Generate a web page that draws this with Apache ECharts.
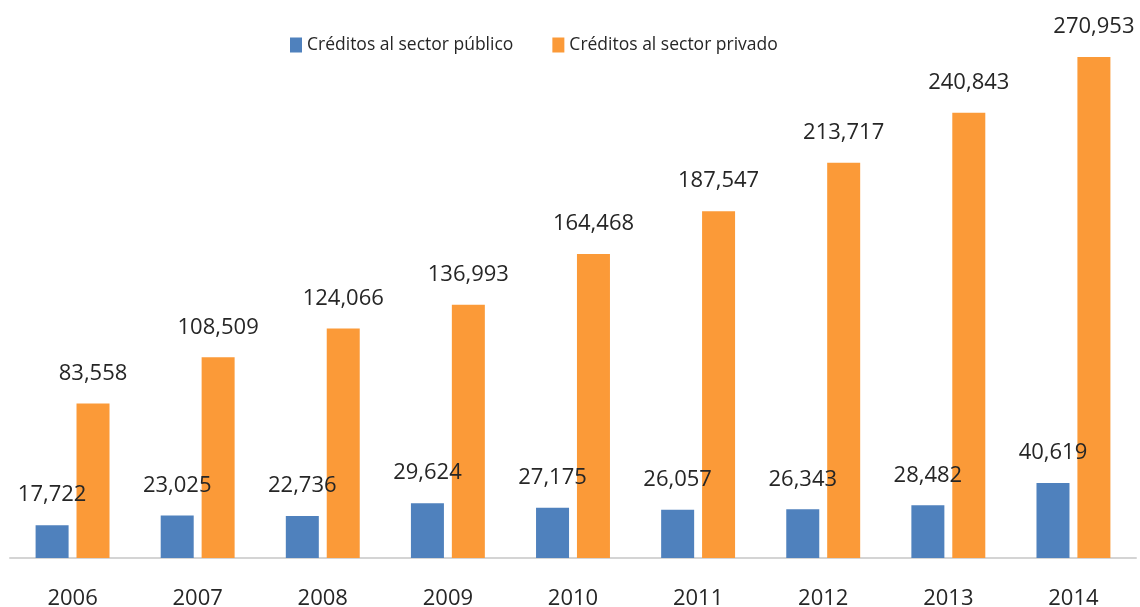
<!DOCTYPE html>
<html>
<head>
<meta charset="utf-8">
<script src="https://cdn.jsdelivr.net/npm/echarts@6/dist/echarts.min.js"></script>
<style>
  html, body { margin: 0; padding: 0; background: #fff; }
  #main { width: 1140px; height: 607px; }
</style>
</head>
<body>
<div id="main"></div>
<script>
    var years = ['2006', '2007', '2008', '2009', '2010', '2011', '2012', '2013', '2014'];
    var publico = [17722, 23025, 22736, 29624, 27175, 26057, 26343, 28482, 40619];
    var privado = [83558, 108509, 124066, 136993, 164468, 187547, 213717, 240843, 270953];

    var FONT = '"Open Sans", sans-serif';

    var myChart = echarts.init(document.getElementById('main'));

    // etiqueta con separador de miles
    function fmt(p) {
        return p.value.toString().replace(/\B(?=(\d{3})+(?!\d))/g, ',');
    }

    var labelStyle = {
        show: true,
        position: 'top',
        distance: 19,
        formatter: fmt,
        color: '#262626',
        fontFamily: FONT,
        fontSize: 22
    };

    var option = {
        animation: false,
        legend: {
            data: ['Créditos al sector público', 'Créditos al sector privado'],
            left: 285,
            top: 31,
            icon: 'rect',
            itemWidth: 12,
            itemHeight: 15,
            itemGap: 39,
            textStyle: {
                fontFamily: FONT,
                fontSize: 17.5,
                color: '#262626'
            }
        },
        grid: {
            left: 10,
            right: 4,
            top: 3.3,
            bottom: 49,
            outerBoundsMode: 'none',
            containLabel: false
        },
        xAxis: {
            type: 'category',
            data: years,
            axisTick: { show: false },
            axisLine: { lineStyle: { color: '#d4d4d4', width: 2 } },
            axisLabel: {
                margin: 30,
                color: '#262626',
                fontFamily: FONT,
                fontSize: 22
            }
        },
        yAxis: {
            type: 'value',
            show: false,
            min: 0,
            max: 300000
        },
        series: [{
            name: 'Créditos al sector público',
            type: 'bar',
            data: publico,
            barWidth: 33,
            barGap: '24%',
            itemStyle: { color: '#4f81bd' },
            label: labelStyle
        }, {
            name: 'Créditos al sector privado',
            type: 'bar',
            data: privado,
            barWidth: 33,
            barGap: '24%',
            itemStyle: { color: '#fb9a38' },
            label: labelStyle
        }]
    };

    myChart.setOption(option);
</script>
</body>
</html>
